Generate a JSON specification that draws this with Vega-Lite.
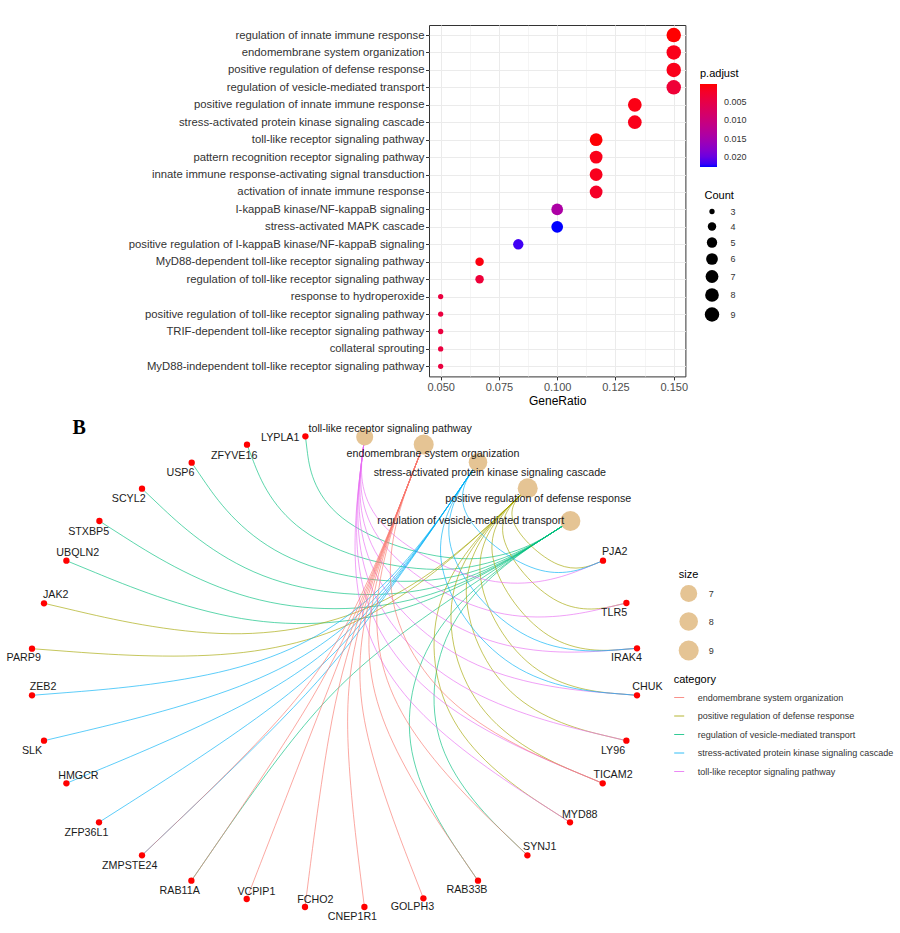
{
  "$schema": "https://vega.github.io/schema/vega-lite/v6.json",
  "padding": {"left": 6, "top": 24, "right": 0, "bottom": 0},
  "background": "white",
  "config": {"font": "Liberation Sans", "view": {"stroke": null}, "concat": {"spacing": 4}},
  "resolve": {"scale": {"size": "independent", "color": "independent"}, "legend": {"size": "independent", "color": "independent"}},
  "datasets": {
    "go": [
      {"Description": "regulation of innate immune response", "GeneRatio": 0.15, "Count": 9, "padj": 0.00004},
      {"Description": "endomembrane system organization", "GeneRatio": 0.15, "Count": 9, "padj": 0.0011},
      {"Description": "positive regulation of defense response", "GeneRatio": 0.15, "Count": 9, "padj": 0.0012},
      {"Description": "regulation of vesicle-mediated transport", "GeneRatio": 0.15, "Count": 9, "padj": 0.0034},
      {"Description": "positive regulation of innate immune response", "GeneRatio": 0.1333, "Count": 8, "padj": 0.0009},
      {"Description": "stress-activated protein kinase signaling cascade", "GeneRatio": 0.1333, "Count": 8, "padj": 0.0012},
      {"Description": "toll-like receptor signaling pathway", "GeneRatio": 0.1167, "Count": 7, "padj": 0.0002},
      {"Description": "pattern recognition receptor signaling pathway", "GeneRatio": 0.1167, "Count": 7, "padj": 0.0012},
      {"Description": "innate immune response-activating signal transduction", "GeneRatio": 0.1167, "Count": 7, "padj": 0.0014},
      {"Description": "activation of innate immune response", "GeneRatio": 0.1167, "Count": 7, "padj": 0.0022},
      {"Description": "I-kappaB kinase/NF-kappaB signaling", "GeneRatio": 0.1, "Count": 6, "padj": 0.0142},
      {"Description": "stress-activated MAPK cascade", "GeneRatio": 0.1, "Count": 6, "padj": 0.0228},
      {"Description": "positive regulation of I-kappaB kinase/NF-kappaB signaling", "GeneRatio": 0.0833, "Count": 5, "padj": 0.0218},
      {"Description": "MyD88-dependent toll-like receptor signaling pathway", "GeneRatio": 0.0667, "Count": 4, "padj": 0.0006},
      {"Description": "regulation of toll-like receptor signaling pathway", "GeneRatio": 0.0667, "Count": 4, "padj": 0.0036},
      {"Description": "response to hydroperoxide", "GeneRatio": 0.05, "Count": 3, "padj": 0.0042},
      {"Description": "positive regulation of toll-like receptor signaling pathway", "GeneRatio": 0.05, "Count": 3, "padj": 0.0042},
      {"Description": "TRIF-dependent toll-like receptor signaling pathway", "GeneRatio": 0.05, "Count": 3, "padj": 0.0042},
      {"Description": "collateral sprouting", "GeneRatio": 0.05, "Count": 3, "padj": 0.0042},
      {"Description": "MyD88-independent toll-like receptor signaling pathway", "GeneRatio": 0.05, "Count": 3, "padj": 0.0042}
    ],
    "nodes": [
      {"name": "toll-like receptor signaling pathway", "type": "category", "size": 7, "x": 365, "y": 437, "lx": 390.5, "ly": 429.3},
      {"name": "endomembrane system organization", "type": "category", "size": 9, "x": 424, "y": 444.5, "lx": 433.3, "ly": 454.3},
      {"name": "stress-activated protein kinase signaling cascade", "type": "category", "size": 8, "x": 478.3, "y": 462.3, "lx": 490.2, "ly": 473.3},
      {"name": "positive regulation of defense response", "type": "category", "size": 9, "x": 528, "y": 488.3, "lx": 538.5, "ly": 498.7},
      {"name": "regulation of vesicle-mediated transport", "type": "category", "size": 9, "x": 570.7, "y": 521, "lx": 471, "ly": 521},
      {"name": "PJA2", "type": "gene", "x": 603.3, "y": 560.7, "lx": 615, "ly": 552.3},
      {"name": "TLR5", "type": "gene", "x": 626.7, "y": 603, "lx": 614.3, "ly": 613.3},
      {"name": "IRAK4", "type": "gene", "x": 637.3, "y": 648.3, "lx": 626.7, "ly": 657.7},
      {"name": "CHUK", "type": "gene", "x": 637.3, "y": 695.3, "lx": 647.7, "ly": 687.3},
      {"name": "LY96", "type": "gene", "x": 626.7, "y": 740.7, "lx": 613.3, "ly": 750.7},
      {"name": "TICAM2", "type": "gene", "x": 603, "y": 783.3, "lx": 613.3, "ly": 775},
      {"name": "MYD88", "type": "gene", "x": 570.3, "y": 822.3, "lx": 580, "ly": 815},
      {"name": "SYNJ1", "type": "gene", "x": 527.7, "y": 855.3, "lx": 540, "ly": 847},
      {"name": "RAB33B", "type": "gene", "x": 478.3, "y": 880.7, "lx": 467.3, "ly": 890.3},
      {"name": "GOLPH3", "type": "gene", "x": 423.7, "y": 898.3, "lx": 412.7, "ly": 907.3},
      {"name": "CNEP1R1", "type": "gene", "x": 364.7, "y": 907, "lx": 352.7, "ly": 917.3},
      {"name": "FCHO2", "type": "gene", "x": 305.3, "y": 907, "lx": 315.7, "ly": 900},
      {"name": "VCPIP1", "type": "gene", "x": 247, "y": 899, "lx": 256.7, "ly": 891.7},
      {"name": "RAB11A", "type": "gene", "x": 191.7, "y": 880.7, "lx": 180, "ly": 890.7},
      {"name": "ZMPSTE24", "type": "gene", "x": 142.3, "y": 855.3, "lx": 130, "ly": 866},
      {"name": "ZFP36L1", "type": "gene", "x": 99.3, "y": 822.3, "lx": 86.7, "ly": 832.7},
      {"name": "HMGCR", "type": "gene", "x": 66.7, "y": 783.3, "lx": 78.7, "ly": 775.7},
      {"name": "SLK", "type": "gene", "x": 44.3, "y": 740.7, "lx": 32.3, "ly": 750.7},
      {"name": "ZEB2", "type": "gene", "x": 32.3, "y": 695.3, "lx": 43.3, "ly": 686.7},
      {"name": "PARP9", "type": "gene", "x": 32.3, "y": 648.7, "lx": 24, "ly": 658.3},
      {"name": "JAK2", "type": "gene", "x": 44.3, "y": 603.3, "lx": 56, "ly": 595},
      {"name": "UBQLN2", "type": "gene", "x": 66.7, "y": 560.7, "lx": 78, "ly": 552.7},
      {"name": "STXBP5", "type": "gene", "x": 99.7, "y": 521, "lx": 89, "ly": 532},
      {"name": "SCYL2", "type": "gene", "x": 142.3, "y": 488.7, "lx": 129, "ly": 499.3},
      {"name": "USP6", "type": "gene", "x": 192, "y": 462.7, "lx": 180.7, "ly": 473.3},
      {"name": "ZFYVE16", "type": "gene", "x": 247.3, "y": 444.7, "lx": 234.5, "ly": 455.7},
      {"name": "LYPLA1", "type": "gene", "x": 305.7, "y": 436.3, "lx": 280.5, "ly": 437.7}
    ],
    "edges": [
      {"gene": "LYPLA1", "category": "regulation of vesicle-mediated transport", "i": 0, "x": 305.7, "y": 436.3},
      {"gene": "LYPLA1", "category": "regulation of vesicle-mediated transport", "i": 1, "x": 316.5, "y": 523.3},
      {"gene": "LYPLA1", "category": "regulation of vesicle-mediated transport", "i": 2, "x": 483.3, "y": 577.1},
      {"gene": "LYPLA1", "category": "regulation of vesicle-mediated transport", "i": 3, "x": 570.7, "y": 521},
      {"gene": "ZFYVE16", "category": "regulation of vesicle-mediated transport", "i": 0, "x": 247.3, "y": 444.7},
      {"gene": "ZFYVE16", "category": "regulation of vesicle-mediated transport", "i": 1, "x": 285.5, "y": 543.9},
      {"gene": "ZFYVE16", "category": "regulation of vesicle-mediated transport", "i": 2, "x": 467.9, "y": 587.0},
      {"gene": "ZFYVE16", "category": "regulation of vesicle-mediated transport", "i": 3, "x": 570.7, "y": 521},
      {"gene": "USP6", "category": "regulation of vesicle-mediated transport", "i": 0, "x": 192, "y": 462.7},
      {"gene": "USP6", "category": "regulation of vesicle-mediated transport", "i": 1, "x": 263.3, "y": 566.8},
      {"gene": "USP6", "category": "regulation of vesicle-mediated transport", "i": 2, "x": 453.4, "y": 596.2},
      {"gene": "USP6", "category": "regulation of vesicle-mediated transport", "i": 3, "x": 570.7, "y": 521},
      {"gene": "SCYL2", "category": "regulation of vesicle-mediated transport", "i": 0, "x": 142.3, "y": 488.7},
      {"gene": "SCYL2", "category": "regulation of vesicle-mediated transport", "i": 1, "x": 249.4, "y": 590.1},
      {"gene": "SCYL2", "category": "regulation of vesicle-mediated transport", "i": 2, "x": 440.0, "y": 604.8},
      {"gene": "SCYL2", "category": "regulation of vesicle-mediated transport", "i": 3, "x": 570.7, "y": 521},
      {"gene": "STXBP5", "category": "regulation of vesicle-mediated transport", "i": 0, "x": 99.7, "y": 521},
      {"gene": "STXBP5", "category": "regulation of vesicle-mediated transport", "i": 1, "x": 242.7, "y": 612.5},
      {"gene": "STXBP5", "category": "regulation of vesicle-mediated transport", "i": 2, "x": 427.9, "y": 612.5},
      {"gene": "STXBP5", "category": "regulation of vesicle-mediated transport", "i": 3, "x": 570.7, "y": 521},
      {"gene": "UBQLN2", "category": "regulation of vesicle-mediated transport", "i": 0, "x": 66.7, "y": 560.7},
      {"gene": "UBQLN2", "category": "regulation of vesicle-mediated transport", "i": 1, "x": 241.9, "y": 632.8},
      {"gene": "UBQLN2", "category": "regulation of vesicle-mediated transport", "i": 2, "x": 417.2, "y": 619.4},
      {"gene": "UBQLN2", "category": "regulation of vesicle-mediated transport", "i": 3, "x": 570.7, "y": 521},
      {"gene": "RAB11A", "category": "regulation of vesicle-mediated transport", "i": 0, "x": 191.7, "y": 880.7},
      {"gene": "RAB11A", "category": "regulation of vesicle-mediated transport", "i": 1, "x": 302.1, "y": 720.1},
      {"gene": "RAB11A", "category": "regulation of vesicle-mediated transport", "i": 2, "x": 389.7, "y": 636.9},
      {"gene": "RAB11A", "category": "regulation of vesicle-mediated transport", "i": 3, "x": 570.7, "y": 521},
      {"gene": "RAB33B", "category": "regulation of vesicle-mediated transport", "i": 0, "x": 478.3, "y": 880.7},
      {"gene": "RAB33B", "category": "regulation of vesicle-mediated transport", "i": 1, "x": 391.8, "y": 754.0},
      {"gene": "RAB33B", "category": "regulation of vesicle-mediated transport", "i": 2, "x": 427.9, "y": 612.5},
      {"gene": "RAB33B", "category": "regulation of vesicle-mediated transport", "i": 3, "x": 570.7, "y": 521},
      {"gene": "SYNJ1", "category": "regulation of vesicle-mediated transport", "i": 0, "x": 527.7, "y": 855.3},
      {"gene": "SYNJ1", "category": "regulation of vesicle-mediated transport", "i": 1, "x": 421.2, "y": 753.3},
      {"gene": "SYNJ1", "category": "regulation of vesicle-mediated transport", "i": 2, "x": 440.0, "y": 604.8},
      {"gene": "SYNJ1", "category": "regulation of vesicle-mediated transport", "i": 3, "x": 570.7, "y": 521},
      {"gene": "JAK2", "category": "positive regulation of defense response", "i": 0, "x": 44.3, "y": 603.3},
      {"gene": "JAK2", "category": "positive regulation of defense response", "i": 1, "x": 234.0, "y": 647.8},
      {"gene": "JAK2", "category": "positive regulation of defense response", "i": 2, "x": 402.5, "y": 607.9},
      {"gene": "JAK2", "category": "positive regulation of defense response", "i": 3, "x": 528, "y": 488.3},
      {"gene": "PARP9", "category": "positive regulation of defense response", "i": 0, "x": 32.3, "y": 648.7},
      {"gene": "PARP9", "category": "positive regulation of defense response", "i": 1, "x": 241.8, "y": 664.5},
      {"gene": "PARP9", "category": "positive regulation of defense response", "i": 2, "x": 394.9, "y": 615.1},
      {"gene": "PARP9", "category": "positive regulation of defense response", "i": 3, "x": 528, "y": 488.3},
      {"gene": "PJA2", "category": "positive regulation of defense response", "i": 0, "x": 603.3, "y": 560.7},
      {"gene": "PJA2", "category": "positive regulation of defense response", "i": 1, "x": 562.1, "y": 577.3},
      {"gene": "PJA2", "category": "positive regulation of defense response", "i": 2, "x": 498.4, "y": 516.9},
      {"gene": "PJA2", "category": "positive regulation of defense response", "i": 3, "x": 528, "y": 488.3},
      {"gene": "TLR5", "category": "positive regulation of defense response", "i": 0, "x": 626.7, "y": 603},
      {"gene": "TLR5", "category": "positive regulation of defense response", "i": 1, "x": 559.7, "y": 618.7},
      {"gene": "TLR5", "category": "positive regulation of defense response", "i": 2, "x": 484.1, "y": 530.5},
      {"gene": "TLR5", "category": "positive regulation of defense response", "i": 3, "x": 528, "y": 488.3},
      {"gene": "IRAK4", "category": "positive regulation of defense response", "i": 0, "x": 637.3, "y": 648.3},
      {"gene": "IRAK4", "category": "positive regulation of defense response", "i": 1, "x": 546.8, "y": 655.5},
      {"gene": "IRAK4", "category": "positive regulation of defense response", "i": 2, "x": 470.1, "y": 543.7},
      {"gene": "IRAK4", "category": "positive regulation of defense response", "i": 3, "x": 528, "y": 488.3},
      {"gene": "CHUK", "category": "positive regulation of defense response", "i": 0, "x": 637.3, "y": 695.3},
      {"gene": "CHUK", "category": "positive regulation of defense response", "i": 1, "x": 525.9, "y": 686.3},
      {"gene": "CHUK", "category": "positive regulation of defense response", "i": 2, "x": 456.8, "y": 556.4},
      {"gene": "CHUK", "category": "positive regulation of defense response", "i": 3, "x": 528, "y": 488.3},
      {"gene": "LY96", "category": "positive regulation of defense response", "i": 0, "x": 626.7, "y": 740.7},
      {"gene": "LY96", "category": "positive regulation of defense response", "i": 1, "x": 499.4, "y": 710.5},
      {"gene": "LY96", "category": "positive regulation of defense response", "i": 2, "x": 444.1, "y": 568.5},
      {"gene": "LY96", "category": "positive regulation of defense response", "i": 3, "x": 528, "y": 488.3},
      {"gene": "TICAM2", "category": "positive regulation of defense response", "i": 0, "x": 603, "y": 783.3},
      {"gene": "TICAM2", "category": "positive regulation of defense response", "i": 1, "x": 470.0, "y": 727.8},
      {"gene": "TICAM2", "category": "positive regulation of defense response", "i": 2, "x": 432.2, "y": 579.7},
      {"gene": "TICAM2", "category": "positive regulation of defense response", "i": 3, "x": 528, "y": 488.3},
      {"gene": "MYD88", "category": "positive regulation of defense response", "i": 0, "x": 570.3, "y": 822.3},
      {"gene": "MYD88", "category": "positive regulation of defense response", "i": 1, "x": 440.0, "y": 738.6},
      {"gene": "MYD88", "category": "positive regulation of defense response", "i": 2, "x": 421.2, "y": 590.1},
      {"gene": "MYD88", "category": "positive regulation of defense response", "i": 3, "x": 528, "y": 488.3},
      {"gene": "PJA2", "category": "toll-like receptor signaling pathway", "i": 0, "x": 603.3, "y": 560.7},
      {"gene": "PJA2", "category": "toll-like receptor signaling pathway", "i": 1, "x": 504.2, "y": 601.4},
      {"gene": "PJA2", "category": "toll-like receptor signaling pathway", "i": 2, "x": 354.1, "y": 523.3},
      {"gene": "PJA2", "category": "toll-like receptor signaling pathway", "i": 3, "x": 365, "y": 437},
      {"gene": "TLR5", "category": "toll-like receptor signaling pathway", "i": 0, "x": 626.7, "y": 603},
      {"gene": "TLR5", "category": "toll-like receptor signaling pathway", "i": 1, "x": 499.4, "y": 632.9},
      {"gene": "TLR5", "category": "toll-like receptor signaling pathway", "i": 2, "x": 352.1, "y": 538.8},
      {"gene": "TLR5", "category": "toll-like receptor signaling pathway", "i": 3, "x": 365, "y": 437},
      {"gene": "IRAK4", "category": "toll-like receptor signaling pathway", "i": 0, "x": 637.3, "y": 648.3},
      {"gene": "IRAK4", "category": "toll-like receptor signaling pathway", "i": 1, "x": 487.3, "y": 660.0},
      {"gene": "IRAK4", "category": "toll-like receptor signaling pathway", "i": 2, "x": 350.3, "y": 553.3},
      {"gene": "IRAK4", "category": "toll-like receptor signaling pathway", "i": 3, "x": 365, "y": 437},
      {"gene": "CHUK", "category": "toll-like receptor signaling pathway", "i": 0, "x": 637.3, "y": 695.3},
      {"gene": "CHUK", "category": "toll-like receptor signaling pathway", "i": 1, "x": 470.1, "y": 682.0},
      {"gene": "CHUK", "category": "toll-like receptor signaling pathway", "i": 2, "x": 348.6, "y": 566.7},
      {"gene": "CHUK", "category": "toll-like receptor signaling pathway", "i": 3, "x": 365, "y": 437},
      {"gene": "LY96", "category": "toll-like receptor signaling pathway", "i": 0, "x": 626.7, "y": 740.7},
      {"gene": "LY96", "category": "toll-like receptor signaling pathway", "i": 1, "x": 449.9, "y": 698.8},
      {"gene": "LY96", "category": "toll-like receptor signaling pathway", "i": 2, "x": 347.0, "y": 578.8},
      {"gene": "LY96", "category": "toll-like receptor signaling pathway", "i": 3, "x": 365, "y": 437},
      {"gene": "TICAM2", "category": "toll-like receptor signaling pathway", "i": 0, "x": 603, "y": 783.3},
      {"gene": "TICAM2", "category": "toll-like receptor signaling pathway", "i": 1, "x": 428.7, "y": 710.6},
      {"gene": "TICAM2", "category": "toll-like receptor signaling pathway", "i": 2, "x": 345.7, "y": 589.6},
      {"gene": "TICAM2", "category": "toll-like receptor signaling pathway", "i": 3, "x": 365, "y": 437},
      {"gene": "MYD88", "category": "toll-like receptor signaling pathway", "i": 0, "x": 570.3, "y": 822.3},
      {"gene": "MYD88", "category": "toll-like receptor signaling pathway", "i": 1, "x": 407.9, "y": 718.1},
      {"gene": "MYD88", "category": "toll-like receptor signaling pathway", "i": 2, "x": 344.5, "y": 598.9},
      {"gene": "MYD88", "category": "toll-like receptor signaling pathway", "i": 3, "x": 365, "y": 437},
      {"gene": "ZEB2", "category": "stress-activated protein kinase signaling cascade", "i": 0, "x": 32.3, "y": 695.3},
      {"gene": "ZEB2", "category": "stress-activated protein kinase signaling cascade", "i": 1, "x": 241.8, "y": 678.9},
      {"gene": "ZEB2", "category": "stress-activated protein kinase signaling cascade", "i": 2, "x": 379.6, "y": 607.2},
      {"gene": "ZEB2", "category": "stress-activated protein kinase signaling cascade", "i": 3, "x": 478.3, "y": 462.3},
      {"gene": "SLK", "category": "stress-activated protein kinase signaling cascade", "i": 0, "x": 44.3, "y": 740.7},
      {"gene": "SLK", "category": "stress-activated protein kinase signaling cascade", "i": 1, "x": 255.0, "y": 690.7},
      {"gene": "SLK", "category": "stress-activated protein kinase signaling cascade", "i": 2, "x": 374.9, "y": 614.0},
      {"gene": "SLK", "category": "stress-activated protein kinase signaling cascade", "i": 3, "x": 478.3, "y": 462.3},
      {"gene": "HMGCR", "category": "stress-activated protein kinase signaling cascade", "i": 0, "x": 66.7, "y": 783.3},
      {"gene": "HMGCR", "category": "stress-activated protein kinase signaling cascade", "i": 1, "x": 268.2, "y": 699.6},
      {"gene": "HMGCR", "category": "stress-activated protein kinase signaling cascade", "i": 2, "x": 371.2, "y": 619.4},
      {"gene": "HMGCR", "category": "stress-activated protein kinase signaling cascade", "i": 3, "x": 478.3, "y": 462.3},
      {"gene": "ZFP36L1", "category": "stress-activated protein kinase signaling cascade", "i": 0, "x": 99.3, "y": 822.3},
      {"gene": "ZFP36L1", "category": "stress-activated protein kinase signaling cascade", "i": 1, "x": 280.9, "y": 706.5},
      {"gene": "ZFP36L1", "category": "stress-activated protein kinase signaling cascade", "i": 2, "x": 368.5, "y": 623.3},
      {"gene": "ZFP36L1", "category": "stress-activated protein kinase signaling cascade", "i": 3, "x": 478.3, "y": 462.3},
      {"gene": "ZMPSTE24", "category": "stress-activated protein kinase signaling cascade", "i": 0, "x": 142.3, "y": 855.3},
      {"gene": "ZMPSTE24", "category": "stress-activated protein kinase signaling cascade", "i": 1, "x": 292.8, "y": 712.1},
      {"gene": "ZMPSTE24", "category": "stress-activated protein kinase signaling cascade", "i": 2, "x": 366.9, "y": 625.7},
      {"gene": "ZMPSTE24", "category": "stress-activated protein kinase signaling cascade", "i": 3, "x": 478.3, "y": 462.3},
      {"gene": "PJA2", "category": "stress-activated protein kinase signaling cascade", "i": 0, "x": 603.3, "y": 560.7},
      {"gene": "PJA2", "category": "stress-activated protein kinase signaling cascade", "i": 1, "x": 542.1, "y": 585.6},
      {"gene": "PJA2", "category": "stress-activated protein kinase signaling cascade", "i": 2, "x": 445.9, "y": 510.6},
      {"gene": "PJA2", "category": "stress-activated protein kinase signaling cascade", "i": 3, "x": 478.3, "y": 462.3},
      {"gene": "IRAK4", "category": "stress-activated protein kinase signaling cascade", "i": 0, "x": 637.3, "y": 648.3},
      {"gene": "IRAK4", "category": "stress-activated protein kinase signaling cascade", "i": 1, "x": 525.9, "y": 657.1},
      {"gene": "IRAK4", "category": "stress-activated protein kinase signaling cascade", "i": 2, "x": 425.6, "y": 540.2},
      {"gene": "IRAK4", "category": "stress-activated protein kinase signaling cascade", "i": 3, "x": 478.3, "y": 462.3},
      {"gene": "CHUK", "category": "stress-activated protein kinase signaling cascade", "i": 0, "x": 637.3, "y": 695.3},
      {"gene": "CHUK", "category": "stress-activated protein kinase signaling cascade", "i": 1, "x": 506.0, "y": 684.8},
      {"gene": "CHUK", "category": "stress-activated protein kinase signaling cascade", "i": 2, "x": 416.1, "y": 553.9},
      {"gene": "CHUK", "category": "stress-activated protein kinase signaling cascade", "i": 3, "x": 478.3, "y": 462.3},
      {"gene": "ZMPSTE24", "category": "endomembrane system organization", "i": 0, "x": 142.3, "y": 855.3},
      {"gene": "ZMPSTE24", "category": "endomembrane system organization", "i": 1, "x": 290.6, "y": 714.1},
      {"gene": "ZMPSTE24", "category": "endomembrane system organization", "i": 2, "x": 355.7, "y": 619.2},
      {"gene": "ZMPSTE24", "category": "endomembrane system organization", "i": 3, "x": 424, "y": 444.5},
      {"gene": "RAB11A", "category": "endomembrane system organization", "i": 0, "x": 191.7, "y": 880.7},
      {"gene": "RAB11A", "category": "endomembrane system organization", "i": 1, "x": 303.7, "y": 717.7},
      {"gene": "RAB11A", "category": "endomembrane system organization", "i": 2, "x": 354.8, "y": 621.8},
      {"gene": "RAB11A", "category": "endomembrane system organization", "i": 3, "x": 424, "y": 444.5},
      {"gene": "VCPIP1", "category": "endomembrane system organization", "i": 0, "x": 247, "y": 899},
      {"gene": "VCPIP1", "category": "endomembrane system organization", "i": 1, "x": 316.2, "y": 720.8},
      {"gene": "VCPIP1", "category": "endomembrane system organization", "i": 2, "x": 354.4, "y": 622.6},
      {"gene": "VCPIP1", "category": "endomembrane system organization", "i": 3, "x": 424, "y": 444.5},
      {"gene": "FCHO2", "category": "endomembrane system organization", "i": 0, "x": 305.3, "y": 907},
      {"gene": "FCHO2", "category": "endomembrane system organization", "i": 1, "x": 328.7, "y": 723.7},
      {"gene": "FCHO2", "category": "endomembrane system organization", "i": 2, "x": 354.8, "y": 621.8},
      {"gene": "FCHO2", "category": "endomembrane system organization", "i": 3, "x": 424, "y": 444.5},
      {"gene": "CNEP1R1", "category": "endomembrane system organization", "i": 0, "x": 364.7, "y": 907},
      {"gene": "CNEP1R1", "category": "endomembrane system organization", "i": 1, "x": 342.2, "y": 726.3},
      {"gene": "CNEP1R1", "category": "endomembrane system organization", "i": 2, "x": 355.7, "y": 619.2},
      {"gene": "CNEP1R1", "category": "endomembrane system organization", "i": 3, "x": 424, "y": 444.5},
      {"gene": "GOLPH3", "category": "endomembrane system organization", "i": 0, "x": 423.7, "y": 898.3},
      {"gene": "GOLPH3", "category": "endomembrane system organization", "i": 1, "x": 357.4, "y": 728.4},
      {"gene": "GOLPH3", "category": "endomembrane system organization", "i": 2, "x": 357.4, "y": 615.0},
      {"gene": "GOLPH3", "category": "endomembrane system organization", "i": 3, "x": 424, "y": 444.5},
      {"gene": "RAB33B", "category": "endomembrane system organization", "i": 0, "x": 478.3, "y": 880.7},
      {"gene": "RAB33B", "category": "endomembrane system organization", "i": 1, "x": 374.9, "y": 729.4},
      {"gene": "RAB33B", "category": "endomembrane system organization", "i": 2, "x": 359.7, "y": 609.1},
      {"gene": "RAB33B", "category": "endomembrane system organization", "i": 3, "x": 424, "y": 444.5},
      {"gene": "SYNJ1", "category": "endomembrane system organization", "i": 0, "x": 527.7, "y": 855.3},
      {"gene": "SYNJ1", "category": "endomembrane system organization", "i": 1, "x": 394.9, "y": 728.3},
      {"gene": "SYNJ1", "category": "endomembrane system organization", "i": 2, "x": 362.6, "y": 601.7},
      {"gene": "SYNJ1", "category": "endomembrane system organization", "i": 3, "x": 424, "y": 444.5},
      {"gene": "TICAM2", "category": "endomembrane system organization", "i": 0, "x": 603, "y": 783.3},
      {"gene": "TICAM2", "category": "endomembrane system organization", "i": 1, "x": 441.0, "y": 715.7},
      {"gene": "TICAM2", "category": "endomembrane system organization", "i": 2, "x": 370.1, "y": 582.4},
      {"gene": "TICAM2", "category": "endomembrane system organization", "i": 3, "x": 424, "y": 444.5}
    ]
  },
  "vconcat": [
    {
      "width": 256.4,
      "height": 351.4,
      "data": {"name": "go"},
      "view": {"stroke": "#333333", "strokeWidth": 1},
      "mark": {"type": "circle", "opacity": 1},
      "encoding": {
        "y": {
          "field": "Description", "type": "nominal", "sort": null,
          "scale": {"type": "point", "padding": 0.575},
          "axis": {"title": null, "grid": true, "labelFontSize": 11.3, "labelColor": "#333333", "labelLimit": 400, "labelPadding": 1.5, "tickSize": 3.5, "tickColor": "#333333", "domain": false, "gridColor": "#EBEBEB", "gridWidth": 1}
        },
        "x": {
          "field": "GeneRatio", "type": "quantitative",
          "scale": {"domain": [0.045, 0.155], "nice": false, "zero": false},
          "axis": {
            "title": "GeneRatio", "titleFontSize": 12, "titleFontWeight": "normal", "titleColor": "#000000", "titlePadding": 3,
            "values": [0.05, 0.0625, 0.075, 0.0875, 0.1, 0.1125, 0.125, 0.1375, 0.15],
            "labelExpr": "abs(datum.value*40 - round(datum.value*40)) < 0.01 ? format(datum.value, '.3f') : ''",
            "labelFontSize": 11, "labelColor": "#4D4D4D", "labelPadding": 2, "labelOverlap": false,
            "tickSize": 3.5, "tickColor": "#333333",
            "tickOpacity": {"condition": {"test": "abs(datum.value*40 - round(datum.value*40)) < 0.01", "value": 1}, "value": 0},
            "gridWidth": {"condition": {"test": "abs(datum.value*40 - round(datum.value*40)) < 0.01", "value": 1}, "value": 0.5},
            "gridColor": "#EBEBEB", "domain": false
          }
        },
        "color": {
          "field": "padj", "type": "quantitative", "title": "p.adjust",
          "scale": {"domain": [0.0228, 0.00004], "range": ["#0000FF", "#FF0000"], "interpolate": "lab"},
          "legend": {"orient": "none", "legendX": 271, "legendY": 43, "direction": "vertical", "values": [0.005, 0.01, 0.015, 0.02], "format": ".3f", "gradientLength": 83, "gradientThickness": 17, "titleFontSize": 11, "titleFontWeight": "normal", "titleColor": "#000000", "titlePadding": 5, "labelFontSize": 9, "labelColor": "#333333", "labelOverlap": false, "labelOffset": 7}
        },
        "size": {
          "field": "Count", "type": "quantitative",
          "scale": {"type": "pow", "exponent": 0.2, "domain": [3, 9], "range": [28, 209]},
          "legend": {"orient": "none", "legendX": 275.5, "legendY": 165, "values": [3, 4, 5, 6, 7, 8, 9], "symbolType": "circle", "symbolFillColor": "#000000", "symbolStrokeWidth": 0, "symbolOpacity": 1, "titleFontSize": 11, "titleFontWeight": "normal", "titleColor": "#000000", "titlePadding": 6, "labelFontSize": 9, "labelColor": "#333333", "labelOffset": 11, "rowPadding": 5}
        }
      }
    },
    {
      "width": 230.7,
      "height": 521,
      "title": {"text": "B", "anchor": "start", "frame": "group", "font": "Liberation Serif", "fontSize": 20, "fontWeight": "bold", "color": "#000000", "offset": -26, "dx": -356.6},
      "layer": [
        {
          "data": {"name": "edges"},
          "mark": {"type": "line", "interpolate": "basis", "strokeWidth": 0.8, "opacity": 0.8},
          "encoding": {
            "x": {"field": "x", "type": "quantitative", "scale": {"domain": [429.3, 660], "nice": false, "zero": false}, "axis": null},
            "y": {"field": "y", "type": "quantitative", "scale": {"domain": [412, 933], "nice": false, "zero": false, "reverse": true}, "axis": null},
            "color": {
              "field": "category", "type": "nominal", "title": "category",
              "scale": {"range": ["#F8766D", "#A3A500", "#00BF7D", "#00B0F6", "#E76BF3"]},
              "legend": {"orient": "none", "legendX": 244.7, "legendY": 262, "symbolType": "stroke", "symbolSize": 100, "symbolStrokeWidth": 1, "symbolOpacity": 0.8, "titleFontSize": 11, "titleFontWeight": "normal", "titleColor": "#000000", "titlePadding": 7, "labelFontSize": 9, "labelColor": "#333333", "labelLimit": 400, "labelOffset": 13, "rowPadding": 7.5}
            },
            "detail": [{"field": "gene", "type": "nominal"}, {"field": "category", "type": "nominal"}],
            "order": {"field": "i", "type": "quantitative"}
          }
        },
        {
          "data": {"name": "nodes"},
          "transform": [{"filter": "datum.type == 'category'"}],
          "mark": {"type": "circle", "color": "#E5C494", "opacity": 1},
          "encoding": {
            "x": {"field": "x", "type": "quantitative"},
            "y": {"field": "y", "type": "quantitative"},
            "size": {
              "field": "size", "type": "quantitative", "title": "size",
              "scale": {"domain": [7, 9], "range": [290, 400]},
              "legend": {"orient": "none", "legendX": 249.7, "legendY": 156.5, "values": [7, 8, 9], "format": "d", "symbolType": "circle", "symbolFillColor": "#000000", "symbolStrokeWidth": 0, "symbolOpacity": 1, "titleFontSize": 11, "titleFontWeight": "normal", "titleColor": "#000000", "labelFontSize": 9, "labelColor": "#333333", "labelOffset": 10, "rowPadding": 9.5}
            }
          }
        },
        {
          "data": {"name": "nodes"},
          "transform": [{"filter": "datum.type == 'gene'"}],
          "mark": {"type": "circle", "color": "#FF0000", "opacity": 1, "size": 40},
          "encoding": {
            "x": {"field": "x", "type": "quantitative"},
            "y": {"field": "y", "type": "quantitative"}
          }
        },
        {
          "data": {"name": "nodes"},
          "mark": {"type": "text", "fontSize": 10.7, "color": "#1A1A1A", "align": "center", "baseline": "middle"},
          "encoding": {
            "x": {"field": "lx", "type": "quantitative"},
            "y": {"field": "ly", "type": "quantitative"},
            "text": {"field": "name", "type": "nominal"}
          }
        }
      ]
    }
  ]
}
